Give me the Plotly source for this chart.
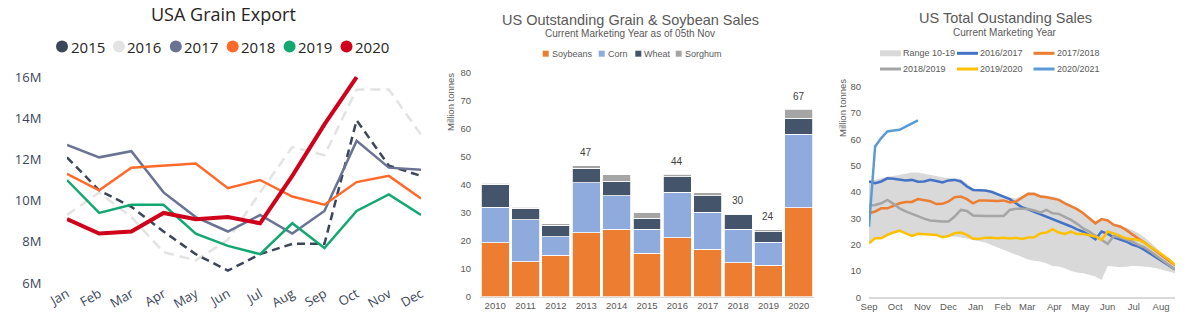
import plotly.graph_objects as go
import pandas as pd

W, H = 1190, 333

# ---------------- USA Grain Export (million tonnes / month) ----------------
months = ["Jan", "Feb", "Mar", "Apr", "May", "Jun", "Jul", "Aug", "Sep", "Oct", "Nov", "Dec"]
exp_2015 = [12.1, 10.5, 9.7, 8.5, 7.4, 6.6, 7.4, 7.9, 7.9, 13.9, 11.7, 11.2]
exp_2016 = [9.3, 10.4, 9.2, 7.5, 7.1, 8.1, 10.4, 12.6, 12.2, 15.4, 15.4, 13.2]
exp_2017 = [12.7, 12.1, 12.4, 10.4, 9.2, 8.5, 9.3, 8.4, 9.5, 12.9, 11.6, 11.5]
exp_2018 = [11.3, 10.5, 11.6, 11.7, 11.8, 10.6, 11.0, 10.2, 9.8, 10.9, 11.2, 10.1]
exp_2019 = [11.0, 9.4, 9.8, 9.8, 8.4, 7.8, 7.4, 8.9, 7.7, 9.5, 10.3, 9.3]
exp_2020 = [9.1, 8.4, 8.5, 9.4, 9.1, 9.2, 8.9, 11.2, 13.7, 16.0, None, None]
export_ticks = [6, 8, 10, 12, 14, 16]

# ---------------- US Outstanding Grain & Soybean Sales (Mt) ----------------
years = ["2010", "2011", "2012", "2013", "2014", "2015", "2016", "2017", "2018", "2019", "2020"]
soybeans = [19.3, 12.4, 14.8, 22.9, 24.1, 15.6, 21.1, 16.9, 12.1, 11.3, 31.8]
corn = [12.6, 15.0, 6.6, 17.8, 12.0, 8.5, 16.2, 13.2, 12.0, 8.1, 26.3]
wheat = [8.2, 4.2, 4.1, 5.2, 5.1, 3.9, 5.6, 5.9, 5.4, 3.8, 5.6]
sorghum = [0.5, 0.3, 0.5, 0.9, 2.3, 2.0, 0.9, 1.1, 0.2, 0.7, 3.3]
labelled_years = ["2013", "2016", "2018", "2019", "2020"]

# ---------------- US Total Outstanding Sales, weekly (Mt) ----------------
weeks = pd.date_range("2020-09-01", periods=51, freq="7D")
range_hi = [44.4, 44.6, 45.2, 45.9, 46.1, 46.5, 46.9, 47.4, 47.4, 46.9, 46.5, 46.1, 45.6, 45.2,
            45.2, 44.9, 43.3, 41.4, 40.8, 40.8, 40.2, 39.5, 38.9, 38.0, 37.6, 38.5, 39.8, 39.9,
            38.9, 38.5, 38.3, 37.6, 36.4, 35.1, 33.8, 32.3, 30.7, 28.8, 30.0, 29.4, 28.1, 27.5,
            26.5, 25.6, 24.3, 22.8, 20.8, 18.6, 16.7, 14.4, 12.7]
range_lo = [20.5, 22.4, 22.4, 23.7, 24.6, 25.3, 24.3, 23.3, 24.1, 24.0, 24.0, 23.7, 22.8, 23.1,
            23.1, 22.8, 22.3, 21.8, 21.3, 20.8, 19.9, 19.0, 18.3, 17.4, 16.5, 15.5, 14.4, 13.9,
            13.6, 12.9, 11.9, 11.7, 11.0, 10.0, 9.4, 9.1, 8.5, 7.9, 6.6, 11.9, 11.7, 11.4,
            11.6, 11.9, 11.9, 11.7, 11.4, 11.0, 10.4, 9.8, 9.1]
my_1617 = [44.0, 43.3, 44.0, 45.2, 45.0, 44.6, 44.4, 44.6, 43.9, 44.0, 44.6, 44.2, 43.6, 44.4,
           44.6, 44.0, 42.1, 40.8, 40.6, 40.6, 40.1, 39.2, 38.5, 37.3, 35.7, 34.2, 33.4, 32.5,
           31.6, 30.8, 29.7, 28.9, 27.9, 26.9, 25.8, 24.9, 23.6, 22.0, 25.0, 24.1, 22.8, 22.1,
           21.2, 20.0, 19.3, 18.0, 16.5, 15.2, 13.6, 11.9, 10.6]
my_1718 = [31.9, 32.6, 33.8, 33.8, 34.7, 35.7, 36.2, 36.2, 37.3, 36.8, 36.5, 35.4, 35.5, 36.4,
           38.0, 38.3, 37.3, 35.7, 36.8, 36.8, 36.6, 36.6, 36.8, 36.0, 36.4, 38.0, 39.3, 39.2,
           38.3, 38.0, 37.6, 37.0, 35.7, 34.7, 33.5, 31.9, 30.0, 28.1, 29.7, 29.2, 27.5, 26.9,
           25.6, 23.8, 22.3, 20.8, 19.0, 17.2, 15.6, 13.9, 12.2]
my_1819 = [34.9, 35.1, 35.7, 37.0, 35.5, 33.8, 32.6, 31.6, 30.7, 29.9, 29.2, 28.9, 28.8, 28.8,
           30.7, 33.2, 32.8, 31.1, 30.9, 30.9, 30.9, 30.9, 30.9, 33.2, 33.6, 33.6, 33.5, 33.0,
           32.2, 33.2, 31.9, 31.7, 30.7, 29.4, 27.9, 26.2, 25.0, 23.3, 21.8, 20.3, 23.3, 22.8,
           22.1, 21.2, 19.9, 19.0, 17.4, 15.7, 14.2, 12.3, 10.6]
my_1920 = [20.5, 22.4, 22.4, 23.7, 24.6, 25.3, 24.3, 23.3, 24.1, 24.0, 24.0, 23.7, 22.8, 23.3,
           24.3, 24.6, 23.7, 22.2, 22.2, 22.6, 22.6, 22.4, 22.6, 22.3, 22.6, 22.2, 22.7, 22.8,
           24.3, 24.6, 25.9, 24.6, 24.1, 25.0, 24.0, 24.0, 23.6, 23.1, 21.8, 25.0, 24.3, 23.3,
           22.4, 22.1, 21.8, 20.8, 19.0, 17.7, 16.1, 14.4, 12.2]
my_2021 = [26.8, 57.3, 60.5, 63.0, 63.4, 63.6, 64.8, 66.0, 67.2]


def fx(p):
    return p / W


def fy(p):
    return 1 - p / H


FONT1 = "Open Sans"
FONT2 = "Liberation Sans"
GREY_TXT = "#595959"
SLATE_TXT = "#3B4658"

fig = go.Figure()

# ---- panel 1: monthly export lines
export_series = [
    ("2016", exp_2016, "#E3E3E3", 2.5, "10px,6px"),
    ("2015", exp_2015, "#3B4658", 2.5, "8px,5px"),
    ("2017", exp_2017, "#6B7394", 2.5, "solid"),
    ("2018", exp_2018, "#FF6A2B", 2.5, "solid"),
    ("2019", exp_2019, "#13A872", 2.5, "solid"),
    ("2020", exp_2020, "#D0021B", 4, "solid"),
]
for name, vals, color, width, dash in export_series:
    fig.add_trace(go.Scatter(
        x=months, y=vals, mode="lines", name=name, showlegend=False,
        line=dict(color=color, width=width, dash=dash), xaxis="x", yaxis="y",
        hovertemplate=name + " %{x}: %{y}M<extra></extra>"))

# ---- panel 2: stacked outstanding sales
bar_series = [("Soybeans", soybeans, "#ED7D31"), ("Corn", corn, "#8FAADC"),
              ("Wheat", wheat, "#44546A"), ("Sorghum", sorghum, "#A5A5A5")]
for name, vals, color in bar_series:
    fig.add_trace(go.Bar(
        x=years, y=vals, name=name, showlegend=False, xaxis="x2", yaxis="y2",
        marker=dict(color=color, line=dict(color="white", width=0.8))))

totals = [round(s + c + w + g, 1) for s, c, w, g in zip(soybeans, corn, wheat, sorghum)]

# ---- panel 3: weekly outstanding sales by marketing year
fig.add_trace(go.Scatter(x=weeks, y=range_lo, mode="lines", line=dict(width=0, color="#D9D9D9"),
                         showlegend=False, xaxis="x3", yaxis="y3", hoverinfo="skip"))
fig.add_trace(go.Scatter(x=weeks, y=range_hi, mode="lines", line=dict(width=0, color="#D9D9D9"),
                         fill="tonexty", fillcolor="#D9D9D9", name="Range 10-19",
                         showlegend=False, xaxis="x3", yaxis="y3"))
season_series = [("2016/2017", my_1617, "#4472C4"), ("2017/2018", my_1718, "#ED7D31"),
                 ("2018/2019", my_1819, "#A5A5A5"), ("2019/2020", my_1920, "#FFC000"),
                 ("2020/2021", my_2021, "#5B9BD5")]
for name, vals, color in season_series:
    fig.add_trace(go.Scatter(x=weeks[:len(vals)], y=vals, mode="lines", name=name,
                             line=dict(color=color, width=2.5), showlegend=False,
                             xaxis="x3", yaxis="y3"))

annotations = []
shapes = []


def text(x, y, s, size, color, family, anchor="center", angle=0):
    annotations.append(dict(x=fx(x), y=fy(y), xref="paper", yref="paper", text=s,
                            showarrow=False, xanchor=anchor, yanchor="middle", borderpad=0,
                            textangle=angle, font=dict(size=size, color=color, family=family)))


# titles
text(223, 14, "USA Grain Export", 18, "#252423", FONT1)
text(630, 20, "US Outstanding Grain & Soybean Sales", 14.5, GREY_TXT, FONT2)
text(630, 33.5, "Current Marketing Year as of 05th Nov", 10, GREY_TXT, FONT2)
text(1005, 18, "US Total Oustanding Sales", 14.5, GREY_TXT, FONT2)
text(1005, 32, "Current Marketing Year", 10, GREY_TXT, FONT2)

# axis titles
text(450, 102, "Million tonnes", 9.5, GREY_TXT, FONT2, angle=-90)
text(842, 108, "Million tonnes", 9.5, GREY_TXT, FONT2, angle=-90)

# legend: panel 1
for k, (name, vals, color, width, dash) in enumerate(sorted(export_series, key=lambda s: s[0])):
    cx = 62 + k * 56.9
    shapes.append(dict(type="circle", xref="paper", yref="paper", x0=fx(cx - 6), x1=fx(cx + 6),
                       y0=fy(46.5 + 6), y1=fy(46.5 - 6), fillcolor=color, line=dict(width=0)))
    text(cx + 7.5, 46.5, name, 15, "#252423", FONT1, anchor="left")

# legend: panel 2
for (name, vals, color), cx in zip(bar_series, [545.7, 601.7, 638.3, 678.7]):
    shapes.append(dict(type="rect", xref="paper", yref="paper", x0=fx(cx - 3), x1=fx(cx + 3),
                       y0=fy(53.7 + 3), y1=fy(53.7 - 3), fillcolor=color, line=dict(width=0)))
    text(cx + 5, 53.7, name, 9, GREY_TXT, FONT2, anchor="left")

# legend: panel 3
legend3 = [("Range 10-19", "#D9D9D9", 6)] + [(s[0], s[2], 3) for s in season_series]
slots = [(880, 53.3), (957, 53.3), (1033.5, 53.3), (880, 69), (957, 69), (1033.5, 69)]
for (name, color, lw), (sx, sy) in zip(legend3, slots):
    shapes.append(dict(type="line", xref="paper", yref="paper", x0=fx(sx), x1=fx(sx + 21),
                       y0=fy(sy), y1=fy(sy), line=dict(color=color, width=lw)))
    text(sx + 22, sy, name, 9, GREY_TXT, FONT2, anchor="left")

# total labels above selected bars (category index on the x2 axis)
for idx, (yr, tot) in enumerate(zip(years, totals)):
    if yr in labelled_years:
        annotations.append(dict(x=idx, y=tot, xref="x2", yref="y2", text=f"{tot:.0f}",
                                showarrow=False, yshift=13, yanchor="middle",
                                font=dict(size=10, color="#404040", family=FONT2)))

common = dict(showgrid=False, zeroline=False, automargin=False)

fig.update_layout(
    template="none",
    width=W, height=H, margin=dict(l=0, r=0, t=0, b=0, pad=0),
    paper_bgcolor="white", plot_bgcolor="white",
    barmode="stack", bargap=0.08, showlegend=False,
    annotations=annotations, shapes=shapes,
    xaxis=dict(domain=[fx(67), fx(421)], anchor="y", type="category", range=[0, 11],
               showline=False, ticks="", tickangle=-30,
               tickfont=dict(size=13, color=SLATE_TXT, family=FONT1), **common),
    yaxis=dict(domain=[fy(283), fy(72.9)], anchor="x", range=[6, 16.2],
               tickmode="array", tickvals=export_ticks,
               ticktext=[f"{v}M" for v in export_ticks], showline=False,
               ticks="outside", ticklen=22, tickcolor="rgba(0,0,0,0)",
               tickfont=dict(size=13, color=SLATE_TXT, family=FONT1), **common),
    xaxis2=dict(domain=[fx(480), fx(814)], anchor="y2", type="category", range=[-0.5, 10.5],
                showline=True, linecolor="#D9D9D9", linewidth=1.2, ticks="",
                tickfont=dict(size=9.5, color=GREY_TXT, family=FONT2), **common),
    yaxis2=dict(domain=[fy(296.7), fy(72.7)], anchor="x2", range=[0, 80], dtick=10,
                showline=False, ticks="outside", ticklen=6, tickcolor="rgba(0,0,0,0)",
                tickfont=dict(size=9.5, color=GREY_TXT, family=FONT2), **common),
    xaxis3=dict(domain=[fx(869), fx(1175)], anchor="y3", type="date",
                range=[weeks[0], weeks[-1]], dtick="M1", tick0="2020-09-01", tickformat="%b",
                showline=True, linecolor="#D9D9D9", linewidth=1.5, ticks="",
                tickfont=dict(size=9.5, color=GREY_TXT, family=FONT2), **common),
    yaxis3=dict(domain=[fy(297.3), fy(86.7)], anchor="x3", range=[0, 80], dtick=10,
                showline=False, ticks="outside", ticklen=5, tickcolor="rgba(0,0,0,0)",
                tickfont=dict(size=9.5, color=GREY_TXT, family=FONT2), **common),
)

fig.write_html("out.html")
